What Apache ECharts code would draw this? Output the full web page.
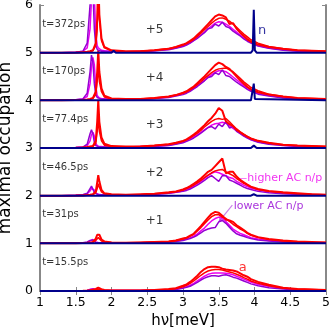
<!DOCTYPE html>
<html>
<head>
<meta charset="utf-8">
<script src="https://cdn.jsdelivr.net/npm/echarts@6/dist/echarts.min.js"></script>
<style>
  html, body { margin: 0; padding: 0; background: #fff; }
  #main { width: 332px; height: 327px; }
</style>
</head>
<body>
<div id="main"></div>
<script>
// photon energy grid (meV), shared by all occupation curves
var X = [1.0, 1.3, 1.5, 1.6, 1.66, 1.70, 1.72, 1.74, 1.76, 1.78, 1.80, 1.815, 1.83, 1.86, 1.9, 2.0,
         2.2, 2.4, 2.6, 2.8, 2.9, 3.0, 3.05, 3.1, 3.15, 3.2, 3.25, 3.3, 3.35, 3.4, 3.45,
         3.5, 3.55, 3.6, 3.65, 3.7, 3.75, 3.8, 3.85, 3.9, 3.95, 4.05, 4.2, 4.4, 4.6, 4.8, 5.0];
// grid for the n curve
var XN = [1.0, 2.0, 2.03, 2.06, 3.95, 3.975, 3.99, 4.005, 4.03, 5.0];

var TIMES = ['t=15.5ps', 't=31ps', 't=46.5ps', 't=77.4ps', 't=170ps', 't=372ps'];
var SHIFTS = [0, 1, 2, 3, 4, 5];
var SHIFT_TEXT = ['', '+1', '+2', '+3', '+4', '+5'];
var X_TICKS = [1, 1.5, 2, 2.5, 3, 3.5, 4, 4.5, 5];
var Y_TICKS = [0, 1, 2, 3, 4, 5, 6];

// t=15.5ps
var redA0 = [0,0,0,0.005,0.01, 0.015,0.02,0.025,0.03,0.045, 0.06,0.07,0.06,0.04,0.02, 0.01,
  0.01,0.01,0.02,0.04,0.06, 0.11,0.14,0.19,0.25,0.32, 0.4,0.46,0.5,0.51,0.51, 0.5,0.47,0.45,0.44,0.43, 0.41,0.37,0.33,0.3,0.25, 0.19,0.13,0.07,0.04,0.03, 0.02];
var redB0 = [0,0,0,0,0, 0,0.01,0.01,0.01,0.02, 0.03,0.04,0.03,0.02,0.01, 0.01,
  0.01,0.01,0.02,0.03,0.05, 0.09,0.12,0.16,0.21,0.27, 0.33,0.38,0.42,0.44,0.45, 0.45,0.44,0.42,0.4,0.38, 0.35,0.32,0.28,0.25,0.21, 0.16,0.11,0.06,0.04,0.03, 0.02];
var mag0 = [0,0,0,0.005,0.01, 0.03,0.04,0.05,0.04,0.03, 0.02,0.015,0.01,0.01,0.01, 0.01,
  0.01,0.01,0.02,0.03,0.04, 0.07,0.09,0.12,0.16,0.21, 0.26,0.31,0.35,0.37,0.38, 0.38,0.38,0.37,0.36,0.34, 0.31,0.28,0.25,0.22,0.19, 0.14,0.1,0.06,0.03,0.02, 0.01];
var pur0 = [0,0,0,0.005,0.01, 0.03,0.04,0.035,0.02,0.015, 0.01,0.01,0.01,0.01,0.01, 0.01,
  0.01,0.01,0.01,0.02,0.03, 0.06,0.08,0.1,0.14,0.18, 0.23,0.27,0.3,0.32,0.32, 0.31,0.33,0.34,0.32,0.29, 0.27,0.24,0.21,0.18,0.15, 0.11,0.07,0.04,0.02,0.01, 0.01];
var navy0 = [0,0,0,0,0,0,0,0,0,0];

// t=31ps
var redA1 = [0,0,0,0.005,0.01, 0.015,0.02,0.03,0.05,0.1, 0.18,0.22,0.18,0.08,0.04, 0.02,
  0.01,0.02,0.03,0.04,0.06, 0.1,0.12,0.16,0.2,0.28, 0.36,0.45,0.54,0.62,0.66, 0.64,0.58,0.5,0.48,0.45, 0.38,0.33,0.28,0.22,0.18, 0.13,0.09,0.06,0.04,0.03, 0.02];
var redB1 = [0,0,0,0,0, 0.01,0.01,0.02,0.03,0.06, 0.1,0.12,0.1,0.05,0.03, 0.02,
  0.01,0.02,0.03,0.04,0.06, 0.09,0.11,0.15,0.19,0.26, 0.33,0.41,0.49,0.56,0.6, 0.6,0.55,0.52,0.46,0.4, 0.35,0.3,0.26,0.21,0.17, 0.12,0.08,0.05,0.03,0.02, 0.02];
var mag1 = [0,0,0,0.01,0.02, 0.05,0.07,0.08,0.06,0.03, 0.02,0.02,0.02,0.01,0.01, 0.01,
  0.01,0.01,0.02,0.03,0.05, 0.07,0.09,0.12,0.15,0.2, 0.26,0.32,0.4,0.47,0.52, 0.55,0.53,0.46,0.38,0.3, 0.25,0.21,0.18,0.15,0.12, 0.09,0.06,0.04,0.02,0.02, 0.01];
var pur1 = [0,0,0,0.01,0.03, 0.06,0.08,0.07,0.04,0.02, 0.02,0.01,0.01,0.01,0.01, 0.01,
  0.01,0.01,0.02,0.03,0.04, 0.06,0.08,0.1,0.13,0.17, 0.22,0.27,0.3,0.32,0.33, 0.45,0.48,0.42,0.34,0.26, 0.2,0.17,0.15,0.12,0.1, 0.07,0.05,0.03,0.02,0.01, 0.01];
var navy1 = [0,0,0,0,0,0,0,0,0,0];

// t=46.5ps
var redA2 = [0,0,0.005,0.01,0.015, 0.02,0.025,0.03,0.04,0.09, 0.28,0.43,0.3,0.12,0.05, 0.03,
  0.02,0.03,0.04,0.07,0.09, 0.13,0.16,0.2,0.25,0.3, 0.36,0.43,0.5,0.54,0.62, 0.7,0.78,0.47,0.5,0.5, 0.4,0.33,0.28,0.23,0.19, 0.14,0.1,0.07,0.05,0.03, 0.02];
var redB2 = [0,0,0,0,0.01, 0.01,0.01,0.02,0.03,0.06, 0.15,0.25,0.18,0.08,0.04, 0.02,
  0.02,0.02,0.04,0.06,0.08, 0.12,0.15,0.18,0.22,0.27, 0.32,0.38,0.43,0.48,0.52, 0.54,0.55,0.5,0.46,0.42, 0.36,0.31,0.26,0.22,0.18, 0.13,0.09,0.06,0.04,0.03, 0.02];
var mag2 = [0,0,0.01,0.02,0.04, 0.1,0.15,0.17,0.12,0.05, 0.03,0.03,0.02,0.02,0.02, 0.02,
  0.02,0.02,0.03,0.05,0.07, 0.1,0.13,0.16,0.2,0.25, 0.3,0.36,0.42,0.47,0.5, 0.48,0.45,0.42,0.38,0.36, 0.3,0.26,0.22,0.19,0.16, 0.12,0.08,0.05,0.03,0.02, 0.02];
var pur2 = [0,0,0.01,0.02,0.05, 0.15,0.2,0.16,0.07,0.03, 0.03,0.02,0.02,0.02,0.02, 0.02,
  0.01,0.02,0.03,0.05,0.07, 0.09,0.11,0.14,0.18,0.22, 0.27,0.32,0.38,0.42,0.36, 0.3,0.42,0.42,0.33,0.3, 0.26,0.22,0.18,0.15,0.13, 0.09,0.06,0.04,0.03,0.02, 0.01];
var navy2 = [0,0,0,0,0,0.01,0.03,0.01,0,0];

// t=77.4ps
var redA3 = [0,0,0.005,0.01,0.02, 0.03,0.03,0.04,0.06,0.15, 0.55,1.0,0.55,0.22,0.09, 0.04,
  0.03,0.03,0.05,0.08,0.11, 0.15,0.18,0.23,0.28,0.34, 0.41,0.48,0.56,0.63,0.72, 0.84,0.78,0.56,0.5,0.46, 0.38,0.33,0.28,0.24,0.2, 0.15,0.11,0.07,0.05,0.04, 0.03];
var redB3 = [0,0,0,0.01,0.01, 0.02,0.02,0.03,0.04,0.1, 0.35,0.6,0.35,0.15,0.06, 0.03,
  0.02,0.03,0.05,0.08,0.1, 0.14,0.17,0.21,0.26,0.31, 0.37,0.44,0.5,0.56,0.6, 0.62,0.6,0.62,0.55,0.47, 0.4,0.34,0.29,0.24,0.2, 0.15,0.1,0.07,0.05,0.04, 0.03];
var mag3 = [0,0,0.01,0.02,0.05, 0.15,0.28,0.33,0.25,0.1, 0.05,0.04,0.03,0.03,0.02, 0.02,
  0.02,0.03,0.04,0.06,0.09, 0.12,0.15,0.19,0.23,0.28, 0.33,0.38,0.43,0.48,0.51, 0.52,0.54,0.52,0.47,0.41, 0.36,0.31,0.26,0.22,0.18, 0.13,0.09,0.06,0.04,0.03, 0.02];
var pur3 = [0,0,0.01,0.02,0.08, 0.3,0.38,0.3,0.12,0.05, 0.04,0.03,0.03,0.02,0.02, 0.02,
  0.02,0.02,0.03,0.05,0.08, 0.11,0.14,0.17,0.21,0.26, 0.31,0.37,0.43,0.45,0.4, 0.5,0.45,0.55,0.42,0.45, 0.35,0.3,0.25,0.21,0.17, 0.12,0.08,0.05,0.03,0.02, 0.02];
var navy3 = [0,0,0,0,0,0.02,0.05,0.02,0,0];

// t=170ps
var redA4 = [0,0,0.005,0.01,0.02, 0.03,0.04,0.05,0.07,0.18, 0.6,1.05,0.6,0.25,0.1, 0.04,
  0.03,0.03,0.05,0.08,0.11, 0.16,0.19,0.24,0.29,0.36, 0.43,0.5,0.58,0.66,0.74, 0.79,0.76,0.7,0.66,0.58, 0.5,0.42,0.35,0.28,0.23, 0.17,0.12,0.08,0.05,0.04, 0.03];
var redB4 = [0,0,0,0.01,0.01, 0.02,0.03,0.04,0.05,0.12, 0.4,0.7,0.4,0.18,0.07, 0.03,
  0.02,0.03,0.05,0.08,0.11, 0.15,0.18,0.22,0.27,0.33, 0.39,0.46,0.52,0.58,0.63, 0.66,0.67,0.68,0.64,0.6, 0.53,0.46,0.39,0.33,0.27, 0.2,0.13,0.08,0.05,0.04, 0.03];
var mag4 = [0,0,0.01,0.03,0.08, 0.35,0.7,0.9,0.75,0.3, 0.1,0.07,0.05,0.04,0.03, 0.03,
  0.02,0.03,0.04,0.07,0.1, 0.14,0.17,0.21,0.25,0.3, 0.36,0.42,0.48,0.54,0.59, 0.62,0.62,0.6,0.55,0.49, 0.43,0.37,0.31,0.26,0.21, 0.15,0.1,0.06,0.04,0.03, 0.02];
var pur4 = [0,0,0.01,0.03,0.15, 0.6,0.95,0.8,0.35,0.12, 0.06,0.05,0.04,0.03,0.03, 0.02,
  0.02,0.02,0.04,0.06,0.09, 0.12,0.15,0.19,0.24,0.29, 0.35,0.41,0.48,0.5,0.58, 0.54,0.64,0.52,0.5,0.44, 0.38,0.33,0.28,0.23,0.19, 0.13,0.09,0.05,0.03,0.02, 0.02];
var navy4 = [0,0,0,0,0,0.03,0.35,0.03,0,0];

// t=372ps
var redA5 = [0,0,0.005,0.01,0.02, 0.03,0.04,0.05,0.08,0.2, 0.7,1.6,0.8,0.3,0.12, 0.05,
  0.03,0.03,0.05,0.08,0.12, 0.17,0.2,0.25,0.3,0.37, 0.44,0.52,0.6,0.68,0.76, 0.8,0.78,0.74,0.6,0.62, 0.5,0.42,0.35,0.28,0.23, 0.17,0.12,0.08,0.05,0.04, 0.03];
var redB5 = [0,0,0,0.01,0.01, 0.02,0.03,0.04,0.06,0.15, 0.5,1.3,0.7,0.25,0.1, 0.04,
  0.02,0.03,0.05,0.09,0.12, 0.16,0.19,0.23,0.28,0.34, 0.41,0.48,0.55,0.62,0.68, 0.72,0.73,0.7,0.66,0.6, 0.53,0.46,0.39,0.33,0.27, 0.2,0.13,0.08,0.05,0.04, 0.03];
var mag5 = [0,0,0.01,0.03,0.1, 0.5,1.1,1.5,1.2,0.4, 0.15,0.1,0.07,0.05,0.04, 0.03,
  0.02,0.03,0.04,0.07,0.1, 0.14,0.17,0.21,0.26,0.31, 0.37,0.43,0.5,0.56,0.62, 0.65,0.64,0.6,0.55,0.49, 0.43,0.37,0.31,0.26,0.21, 0.15,0.1,0.06,0.04,0.03, 0.02];
var pur5 = [0,0,0.01,0.03,0.2, 1.0,1.6,1.3,0.5,0.15, 0.07,0.05,0.04,0.03,0.03, 0.02,
  0.02,0.02,0.04,0.06,0.09, 0.13,0.16,0.2,0.25,0.3, 0.36,0.42,0.5,0.52,0.6, 0.56,0.64,0.55,0.52,0.45, 0.4,0.35,0.29,0.24,0.2, 0.14,0.09,0.05,0.03,0.02, 0.02];
var navy5 = [0,0,0.04,0,0,0.05,0.9,0.05,0,0];

var FONT = 'DejaVu Sans';
var RED = '#ff0000', MAG = '#ee00ee', PUR = '#9400d3', NAVY = '#00008b', AXIS = '#888888';

var panels = [
  [redA0, redB0, mag0, pur0, navy0],
  [redA1, redB1, mag1, pur1, navy1],
  [redA2, redB2, mag2, pur2, navy2],
  [redA3, redB3, mag3, pur3, navy3],
  [redA4, redB4, mag4, pur4, navy4],
  [redA5, redB5, mag5, pur5, navy5]
];

function shifted(xs, ys, k) {
  return xs.map(function (x, i) { return [x, ys[i] + k]; });
}
function curve(xs, ys, k, color, w) {
  return {
    type: 'line', data: shifted(xs, ys, k), showSymbol: false, symbol: 'none',
    lineStyle: { color: color, width: w }, itemStyle: { color: color },
    silent: true, animation: false
  };
}

var series = [];
panels.forEach(function (p, i) {
  var k = SHIFTS[i];
  series.push(curve(X, p[2], k, MAG, 1.5));
  series.push(curve(X, p[3], k, PUR, 1.5));
  series.push(curve(X, p[1], k, RED, 1.5));
  series.push(curve(X, p[0], k, RED, 2));
});
panels.forEach(function (p, i) {
  series.push(curve(XN, p[4], SHIFTS[i], NAVY, 2));
});

// text annotations, placed in data coordinates
var notes = [];
TIMES.forEach(function (t, i) {
  notes.push({ name: t, value: [1.03, SHIFTS[i] + 0.6], label: { fontSize: 10, color: '#000' } });
  if (SHIFT_TEXT[i]) notes.push({ name: SHIFT_TEXT[i], value: [2.48, SHIFTS[i] + 0.48], label: { fontSize: 12, color: '#000' } });
});
notes.push({ name: 'n', value: [4.05, 5.46], label: { fontSize: 13, color: NAVY } });
notes.push({ name: 'higher AC n/p', value: [3.9, 2.37], label: { fontSize: 11, color: MAG } });
notes.push({ name: 'lower AC n/p', value: [3.71, 1.78], label: { fontSize: 11, color: PUR } });
notes.push({ name: 'a', value: [3.78, 0.49], label: { fontSize: 13, color: RED } });

series.push({
  type: 'scatter', data: notes, symbolSize: 0, silent: true, animation: false,
  itemStyle: { color: 'rgba(0,0,0,0)' },
  label: { show: true, position: 'right', distance: 0, fontFamily: FONT,
           formatter: function (p) { return p.name; } }
});
series.push({
  type: 'lines', coordinateSystem: 'cartesian2d', silent: true, animation: false,
  data: [{ coords: [[3.74, 2.37], [3.89, 2.37]], lineStyle: { color: MAG } }],
  lineStyle: { width: 1.2 }
});
series.push({
  type: 'lines', coordinateSystem: 'cartesian2d', silent: true, animation: false,
  symbol: ['none', 'arrow'], symbolSize: 6,
  data: [{ coords: [[3.69, 1.8], [3.5, 1.45]], lineStyle: { color: PUR } }],
  lineStyle: { width: 1.2 }
});

var axisLine = { show: true, lineStyle: { color: AXIS, width: 2 } };
var tick = { show: true, inside: true, length: 4, lineStyle: { color: AXIS, width: 1 } };

var chart = echarts.init(document.getElementById('main'));
chart.setOption({
  animation: false,
  grid: { left: 40, right: 6, top: 5, bottom: 36, containLabel: false, outerBoundsMode: 'none' },
  xAxis: [{
    type: 'value', min: X_TICKS[0], max: X_TICKS[X_TICKS.length - 1], interval: 0.5,
    position: 'bottom', axisLine: axisLine, axisTick: tick, splitLine: { show: false },
    axisLabel: { color: '#000', fontSize: 12.5, fontFamily: FONT, margin: 5 },
    name: 'hν[meV]', nameLocation: 'middle', nameGap: 18,
    nameTextStyle: { color: '#000', fontSize: 15, fontFamily: FONT }
  }, {
    type: 'value', min: 1, max: 5, interval: 0.5, position: 'top',
    axisLine: axisLine, axisTick: tick, axisLabel: { show: false }, splitLine: { show: false }
  }],
  yAxis: [{
    type: 'value', min: Y_TICKS[0], max: Y_TICKS[Y_TICKS.length - 1], interval: 1,
    axisLine: axisLine, axisTick: tick, splitLine: { show: false },
    axisLabel: { color: '#000', fontSize: 12.5, fontFamily: FONT, margin: 7 },
    name: 'maximal occupation', nameLocation: 'middle', nameGap: 20,
    nameTextStyle: { color: '#000', fontSize: 17, fontFamily: FONT }
  }, {
    type: 'value', min: 0, max: 6, interval: 1, position: 'right',
    axisLine: axisLine, axisTick: tick, axisLabel: { show: false }, splitLine: { show: false }
  }],
  series: series
});
</script>
</body>
</html>
